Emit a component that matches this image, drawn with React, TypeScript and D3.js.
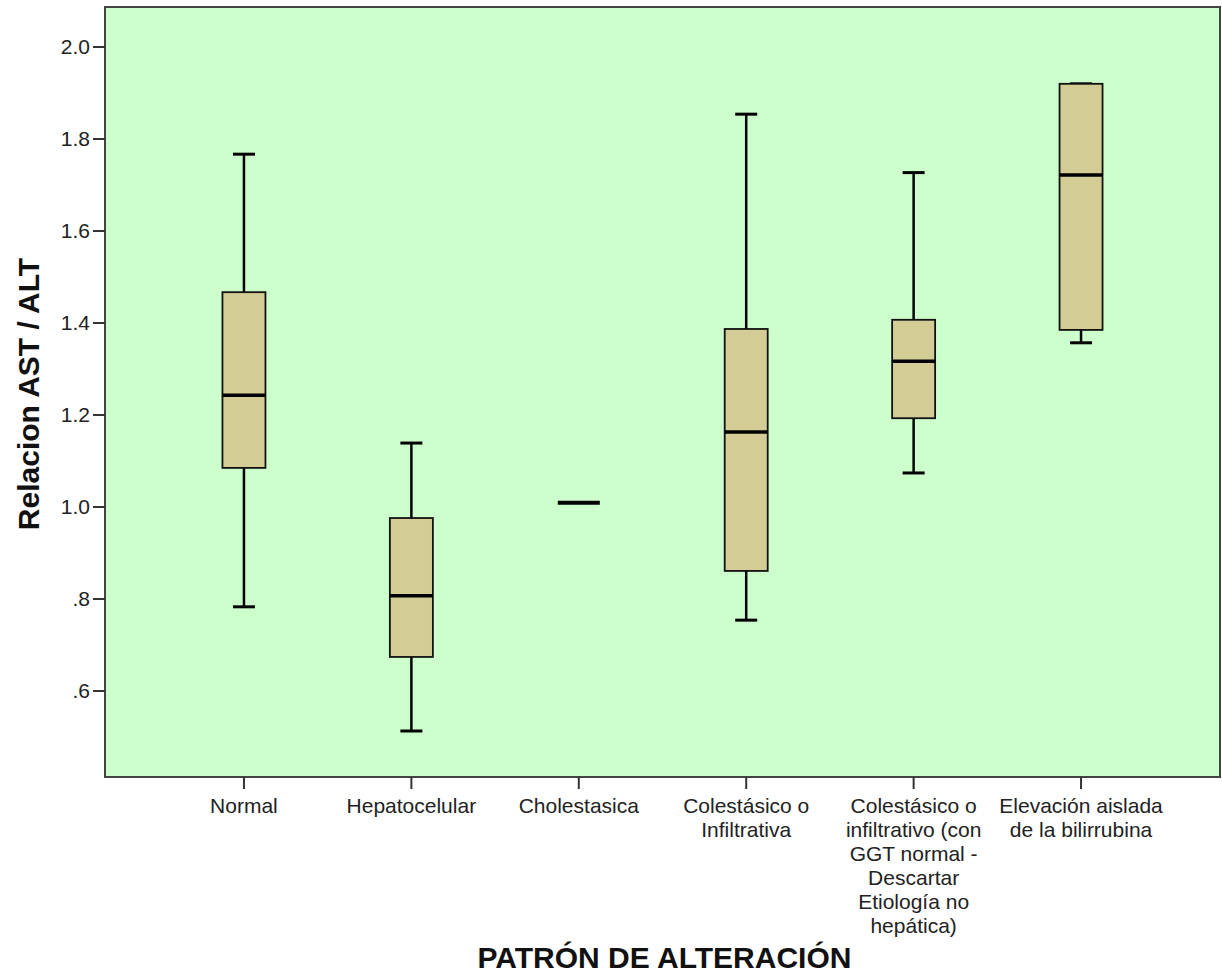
import React from 'react';
import * as d3 from 'd3';

// categorias del eje X (lineas separadas para los rotulos)
const categories = [
  ['Normal'],
  ['Hepatocelular'],
  ['Cholestasica'],
  ['Colestásico o', 'Infiltrativa'],
  ['Colestásico o', 'infiltrativo (con', 'GGT normal -', 'Descartar', 'Etiología no', 'hepática)'],
  ['Elevación aislada', 'de la bilirrubina'],
];

// resumen de cinco numeros
const mins = [0.783, 0.513, 1.009, 0.754, 1.074, 1.357];
const q1s = [1.085, 0.674, 1.009, 0.861, 1.193, 1.385];
const medians = [1.243, 0.807, 1.009, 1.163, 1.317, 1.722];
const q3s = [1.467, 0.976, 1.009, 1.387, 1.407, 1.92];
const maxs = [1.767, 1.139, 1.009, 1.854, 1.727, 1.92];

const yTicks = [0.6, 0.8, 1.0, 1.2, 1.4, 1.6, 1.8, 2.0];

const W = 1222;
const H = 974;
const margin = { top: 7, right: 2, bottom: 197, left: 105 };
const FONT = 'Arial, "Liberation Sans", Helvetica, sans-serif';

export default function App() {
  const innerW = W - margin.left - margin.right;
  const innerH = H - margin.top - margin.bottom;

  const keys = categories.map((c, i) => String(i));
  const x = d3.scalePoint().domain(keys).range([0, innerW]).padding(0.83);
  const y = d3.scaleLinear().domain([0.413, 2.087]).range([innerH, 0]);

  const boxW = 43;
  const capW = 22;

  const fmt = (v: number) => (v < 1 ? d3.format('.1f')(v).replace(/^0/, '') : d3.format('.1f')(v));

  return (
    <svg width={W} height={H} style={{ position: 'absolute', left: 0, top: 0, background: '#fff' }}>
      <g transform={`translate(${margin.left},${margin.top})`} fontFamily={FONT}>
        <rect x={0} y={0} width={innerW} height={innerH} fill="#ccffcc" stroke="#444" strokeWidth={2} />

        {yTicks.map((t) => (
          <g key={t} transform={`translate(0,${y(t)})`}>
            <line x1={-12} x2={0} stroke="#333" strokeWidth={2} />
            <text x={-15} dy="0.35em" textAnchor="end" fontSize={21} fill="#222">
              {fmt(t)}
            </text>
          </g>
        ))}

        {keys.map((k, i) => {
          const cx = x(k) as number;
          const single = mins[i] === maxs[i];
          return (
            <g key={k}>
              <line x1={cx} x2={cx} y1={innerH} y2={innerH + 12} stroke="#333" strokeWidth={2} />
              <text textAnchor="middle" fontSize={21} fill="#222">
                {categories[i].map((line, j) => (
                  <tspan key={j} x={cx} y={innerH + 36 + j * 24}>
                    {line}
                  </tspan>
                ))}
              </text>
              {single ? (
                <line x1={cx - 21} x2={cx + 21} y1={y(medians[i])} y2={y(medians[i])} stroke="#000" strokeWidth={4} />
              ) : (
                <g>
                  <line x1={cx} x2={cx} y1={y(maxs[i])} y2={y(q3s[i])} stroke="#000" strokeWidth={2.5} />
                  <line x1={cx} x2={cx} y1={y(q1s[i])} y2={y(mins[i])} stroke="#000" strokeWidth={2.5} />
                  <line x1={cx - capW / 2} x2={cx + capW / 2} y1={y(maxs[i])} y2={y(maxs[i])} stroke="#000" strokeWidth={3} />
                  <line x1={cx - capW / 2} x2={cx + capW / 2} y1={y(mins[i])} y2={y(mins[i])} stroke="#000" strokeWidth={3} />
                  <rect
                    x={cx - boxW / 2}
                    y={y(q3s[i])}
                    width={boxW}
                    height={y(q1s[i]) - y(q3s[i])}
                    fill="#d3cd95"
                    stroke="#111"
                    strokeWidth={1.8}
                  />
                  <line x1={cx - boxW / 2} x2={cx + boxW / 2} y1={y(medians[i])} y2={y(medians[i])} stroke="#000" strokeWidth={3.5} />
                </g>
              )}
            </g>
          );
        })}

        <text
          transform={`translate(${-66},${387}) rotate(-90)`}
          textAnchor="middle"
          fontSize={30}
          fontWeight="bold"
          fill="#111"
        >
          Relacion AST / ALT
        </text>
        <text x={innerW / 2 + 2} y={innerH + 191} textAnchor="middle" fontSize={30} fontWeight="bold" fill="#111">
          PATRÓN DE ALTERACIÓN
        </text>
      </g>
    </svg>
  );
}
